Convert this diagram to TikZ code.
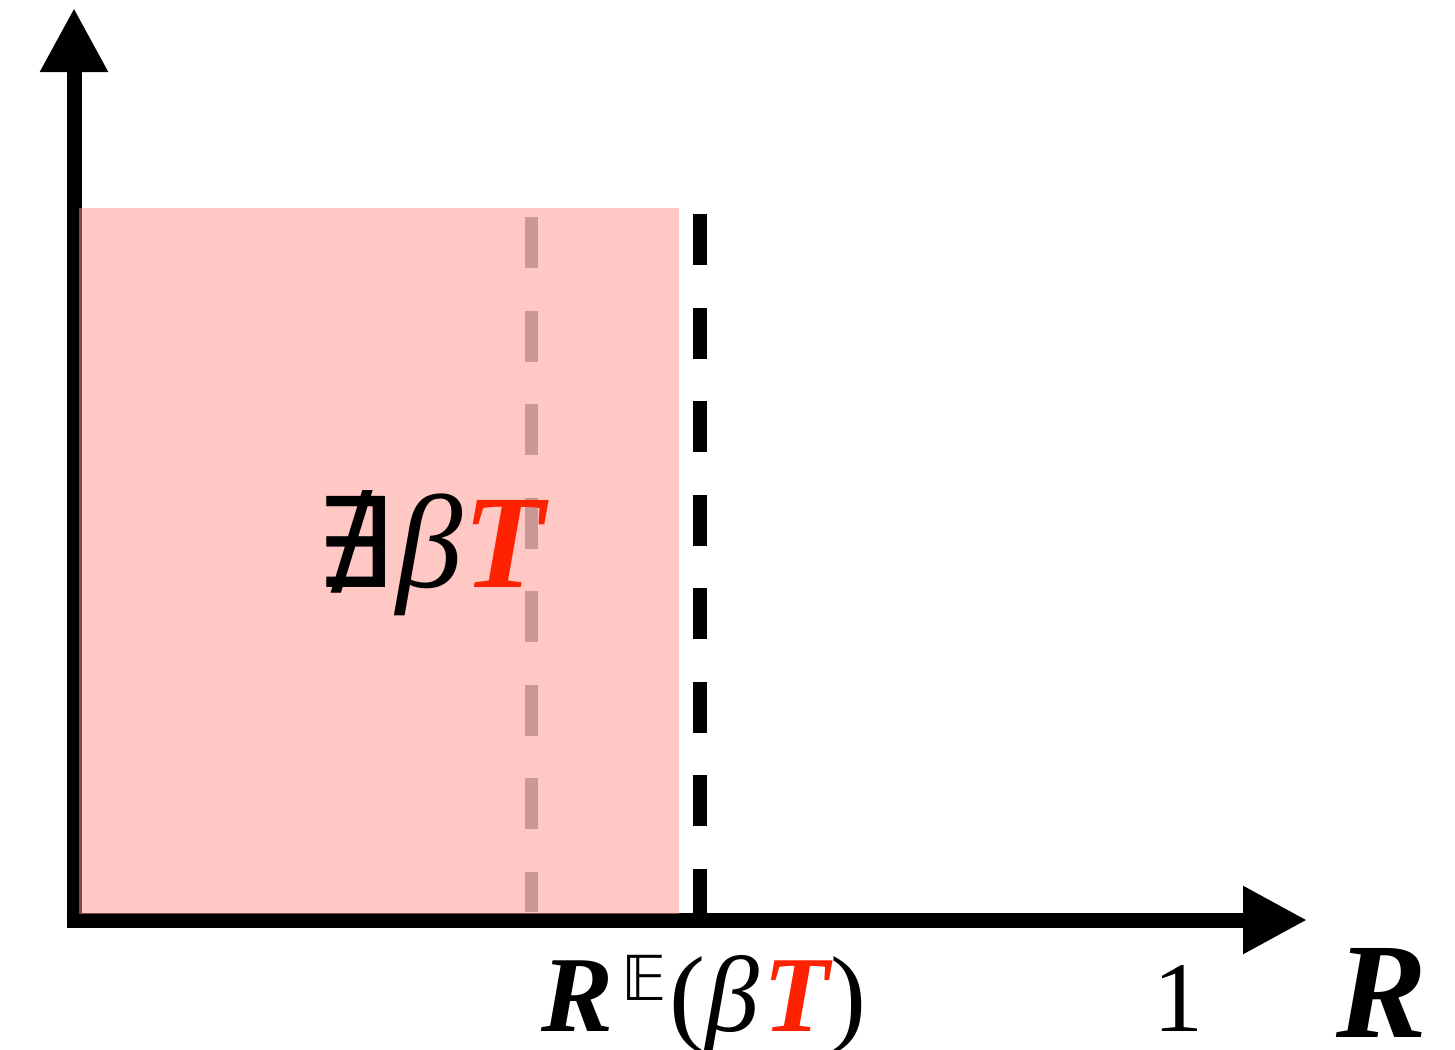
\documentclass[tikz,border=0pt]{standalone}
\usepackage{fontspec}
\setmainfont{Liberation Serif}
\newfontfamily\djv{DejaVu Sans}
\usetikzlibrary{arrows.meta}
\definecolor{myred}{RGB}{255,34,0}
\definecolor{pinkfill}{RGB}{255,145,137}
\definecolor{dashgray}{RGB}{204,152,150}
\begin{document}
\begin{tikzpicture}[x=1pt,y=-1pt,
  axisline/.style={line width=15pt,line join=miter,
    -{Triangle[length=64pt,width=64pt]}},
  pinkbox/.style={fill=pinkfill,fill opacity=0.5,draw=none},
  blackdash/.style={line width=14pt,black,dash pattern=on 51pt off 42.5pt},
  graydash/.style={line width=13pt,dashgray,dash pattern=on 51pt off 42.5pt},
  lbl/.style={inner sep=0pt,outer sep=0pt}]
\useasboundingbox (0,0) rectangle (1455,1049);
\coordinate (O) at (74,920);
\coordinate (ytip) at (74,8);
\coordinate (xtip) at (1307,920);
\coordinate (ybot) at (74,927.5);
\coordinate (xleft) at (66.5,920);
% axes
\draw[axisline] (ybot) -- (ytip);
\draw[axisline] (xleft) -- (xtip);
% region
\fill[pinkbox] (79,208) rectangle (679,914);
% dashed lines
\coordinate (gtop) at (531,217);
\coordinate (gbot) at (531,912);
\coordinate (btop) at (700,214);
\coordinate (bbot) at (700,913);
\draw[graydash] (gtop) -- (gbot);
\draw[blackdash] (btop) -- (bbot);
% labels
\node[lbl,anchor=base west] (inner) at (314,587)
  {{\fontsize{125}{125}\selectfont\djv ∄}{\fontsize{133}{133}\selectfont\kern4pt\textit{β}\textcolor{myred}{\textbf{\textit{T}}}}};
\node[lbl,anchor=base west] (rlabel) at (541,1031)
  {\fontsize{108}{108}\selectfont\textbf{\textit{R}}\kern8pt\raisebox{31pt}{\fontsize{62}{62}\selectfont\djv 𝔼}\kern3pt(\textit{β}\kern4pt\textcolor{myred}{\textbf{\textit{T}}}\kern-2pt)};
\node[lbl,anchor=base west] (one) at (1153,1031)
  {\fontsize{100}{100}\selectfont 1};
\node[lbl,anchor=base west] (axlabel) at (1336,1037)
  {\fontsize{136}{136}\selectfont\textbf{\textit{R}}};
\end{tikzpicture}
\end{document}
